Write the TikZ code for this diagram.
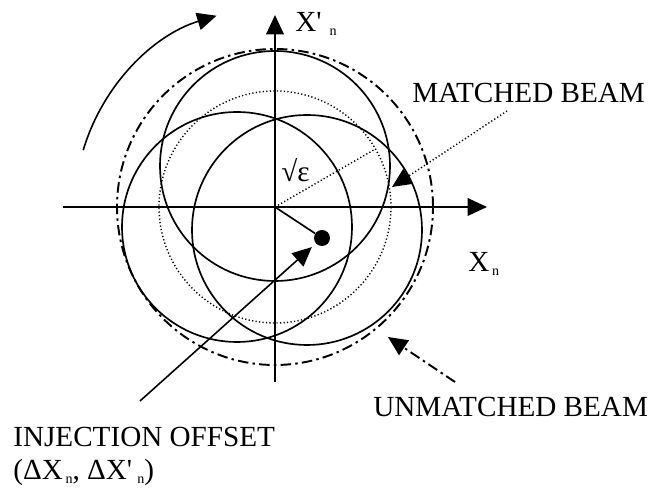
\documentclass[tikz,border=0pt]{standalone}
\usepackage{fontspec}
\setmainfont{Liberation Serif}
\usetikzlibrary{arrows.meta}

% small lowered index n, as the print sets it
\newcommand{\idxn}[1][1.5pt]{\hspace{#1}\raisebox{-2pt}{\fontsize{8pt}{8pt}\selectfont n}}

\begin{document}
\begin{tikzpicture}[
  x=0.02cm, y=0.02cm,
  >={Triangle[length=11pt, width=10pt]},
  font=\fontsize{16.6pt}{20pt}\selectfont,
  axis/.style     ={->, line width=1pt},
  orbit/.style    ={line width=0.95pt},
  matched/.style  ={line width=0.8pt, dash pattern=on 0.7pt off 1.3pt},
  unmatched/.style={line width=1.1pt, dash pattern=on 6pt off 2.4pt on 1.4pt off 2.4pt},
  ptr/.style      ={->, line width=0.9pt},
  lbl/.style      ={anchor=base west, inner sep=0pt},
]

% ---- the frame, stated once ------------------------------------------------------
% one unit is one pixel of the 656 x 492 print, with the origin put on the phase-space
% origin, so every value below is read straight off the figure
\useasboundingbox (-275,-285) rectangle (381,207);
\pgfmathsetmacro{\rbeam}{115}     % the three displaced beams
\pgfmathsetmacro{\rmatch}{116}    % the matched ellipse, sqrt(eps)
\pgfmathsetmacro{\rmis}{158}      % the filamented, unmatched envelope

\coordinate (O) at (0,0);
\coordinate (xL) at (-212,0);
\coordinate (xR) at (212,0);
\coordinate (yB) at (0,-175);
\coordinate (yT) at (0,192);

% ============================================================ BEAMS
\draw[unmatched] (O) circle[radius=\rmis];
\draw[matched]   (O) circle[radius=\rmatch];

\coordinate (cTop)   at (0,41);
\coordinate (cLeft)  at (-38,-20);
\coordinate (cRight) at (32,-23);
\draw[orbit] (cTop)   circle[radius=\rbeam];
\draw[orbit] (cLeft)  circle[radius=\rbeam];
\draw[orbit] (cRight) circle[radius=\rbeam];

% ============================================================ AXES
\draw[axis] (xL) -- (xR);
\draw[axis] (yB) -- (yT);

\node[lbl] (lblXp) at (20,175) {X\textquotesingle\idxn[4.5pt]};
\node[lbl] (lblX)  at (193,-65) {X\idxn};

% radius of the matched ellipse
\coordinate (rim) at (30:\rmatch);
\draw[matched] (O) -- (rim);
\node[lbl] (lblEps) at (6,25) {√ε};

% the injected centroid
\node[circle, fill, inner sep=0pt, minimum size=0.32cm] (kick) at (47,-31) {};
\draw[orbit] (O) -- (kick);

% ============================================================ ROTATION
\coordinate (rotStart) at (163.5:200);
\draw[ptr] (rotStart) arc[start angle=163.5, end angle=107, radius=200];

% ============================================================ CALLOUTS
\node[lbl] (lblMatched) at (137,104) {MATCHED BEAM};
\coordinate (mTail) at (232,96);
\coordinate (mTip)  at (117,20);
\draw[ptr, matched] (mTail) -- (mTip);

\node[lbl] (lblUnmatched) at (98,-210) {UNMATCHED BEAM};
\coordinate (uTail) at (180,-175);
\coordinate (uTip)  at (113,-130);
\draw[ptr, unmatched] (uTail) -- (uTip);

\node[lbl] (lblInj)  at (-262,-240) {INJECTION OFFSET};
\node[lbl] (lblOff)  at (-262,-273) {(ΔX\idxn, ΔX\textquotesingle\idxn[3pt])};
\coordinate (injTail) at (-135,-194);
\draw[ptr, shorten >=3pt] (injTail) -- (kick);

\end{tikzpicture}
\end{document}
